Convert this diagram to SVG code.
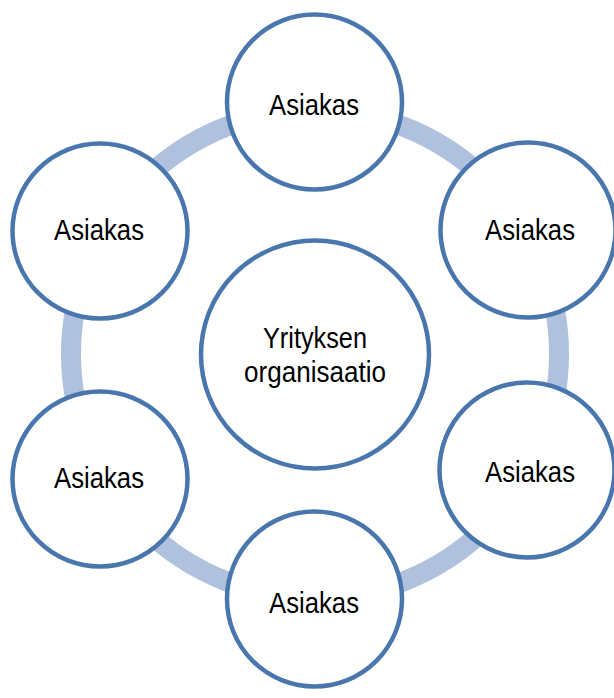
<svg xmlns="http://www.w3.org/2000/svg" width="614" height="698" viewBox="0 0 614 698">
<style>
.ring{fill:none;stroke:#B0C1DD;stroke-width:20}
.node circle{fill:#FFFFFF;stroke:#4A76AE;stroke-width:4.5}
.node text{font-family:"Liberation Sans",Arial,sans-serif;font-size:29px;fill:#000000;text-anchor:middle}
</style>
<rect width="614" height="698" fill="#FFFFFF"/>
<g id="connectors">
<circle class="ring" cx="315" cy="354" r="244"/>
</g>
<g id="center" class="node">
<circle cx="315" cy="354.5" r="114"/>
<text x="315" y="348" textLength="104" lengthAdjust="spacingAndGlyphs">Yrityksen</text>
<text x="315" y="382" textLength="142" lengthAdjust="spacingAndGlyphs">organisaatio</text>
</g>
<g id="node-top" class="node">
<circle cx="314.5" cy="102" r="87.5"/>
<text x="314" y="115" textLength="90" lengthAdjust="spacingAndGlyphs">Asiakas</text>
</g>
<g id="node-right-top" class="node">
<circle cx="528" cy="230" r="87.5"/>
<text x="530" y="240" textLength="90" lengthAdjust="spacingAndGlyphs">Asiakas</text>
</g>
<g id="node-right-bottom" class="node">
<circle cx="527" cy="470" r="87.5"/>
<text x="530" y="482" textLength="90" lengthAdjust="spacingAndGlyphs">Asiakas</text>
</g>
<g id="node-bottom" class="node">
<circle cx="314.5" cy="599" r="87.5"/>
<text x="314" y="613" textLength="90" lengthAdjust="spacingAndGlyphs">Asiakas</text>
</g>
<g id="node-left-bottom" class="node">
<circle cx="100" cy="479" r="87.5"/>
<text x="99" y="488" textLength="90" lengthAdjust="spacingAndGlyphs">Asiakas</text>
</g>
<g id="node-left-top" class="node">
<circle cx="100" cy="231" r="87.5"/>
<text x="99" y="240" textLength="90" lengthAdjust="spacingAndGlyphs">Asiakas</text>
</g>
</svg>
